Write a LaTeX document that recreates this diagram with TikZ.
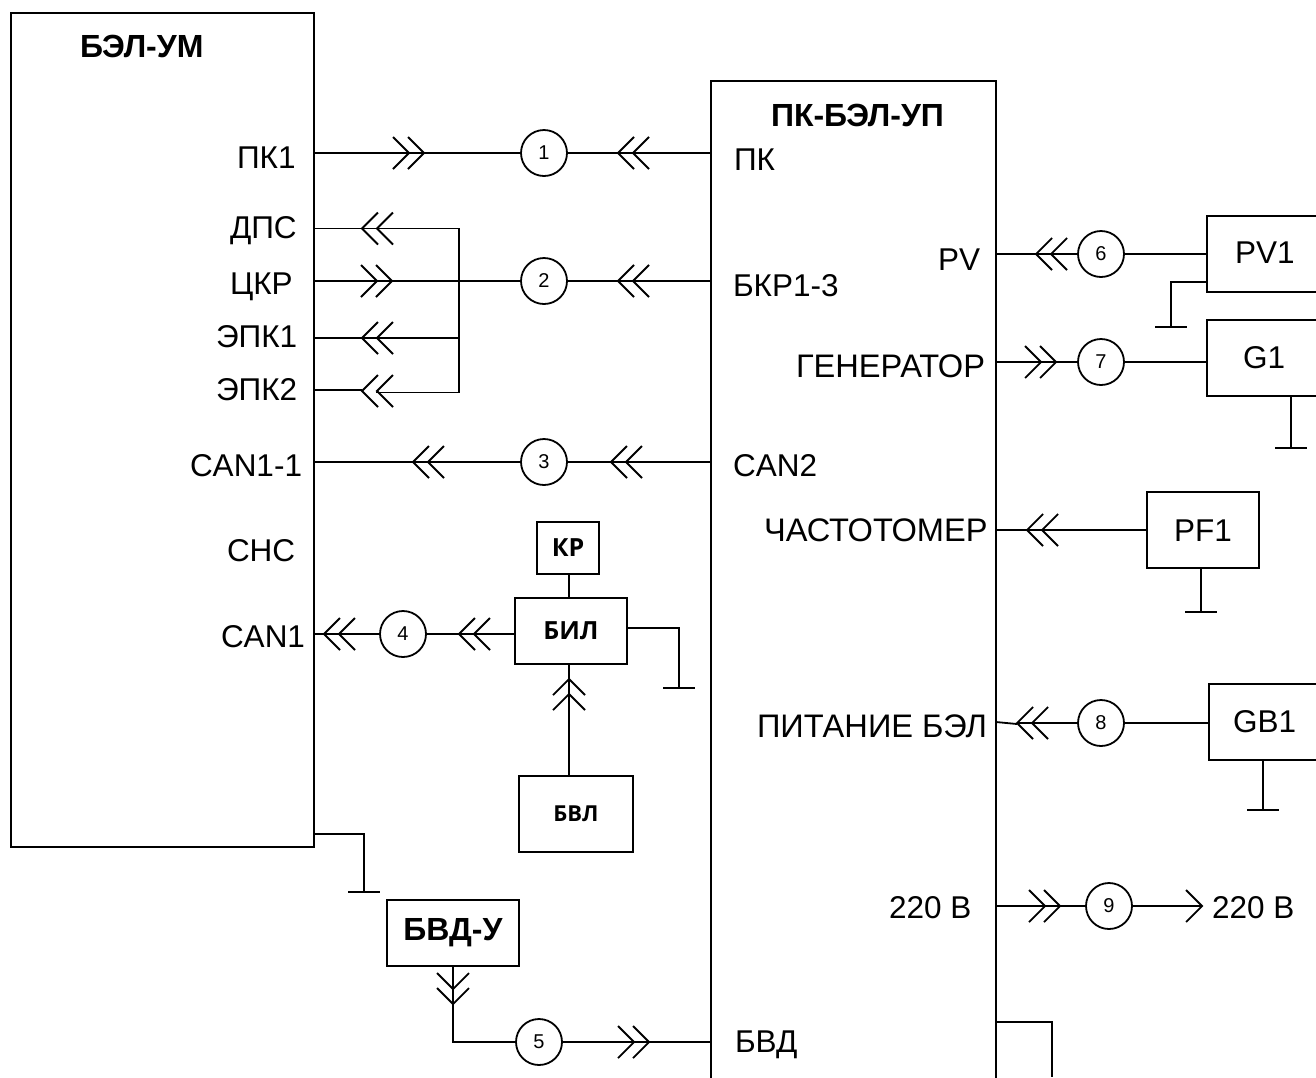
\documentclass[tikz,border=0pt]{standalone}
\usepackage{fontspec}
\setmainfont{Liberation Sans}
\newfontfamily\opensans{Open Sans}
\tikzset{
  wire/.style={line width=1.8pt,line cap=butt,line join=miter},
  box/.style={draw,line width=1.8pt,fill=none,inner sep=0pt,outer sep=0pt},
  num/.style={draw,circle,line width=1.8pt,minimum size=46pt,inner sep=0pt,outer sep=0pt,font=\fontsize{20}{20}\selectfont},
  lab/.style={anchor=base west,inner sep=0pt,outer sep=0pt,font=\fontsize{31.5}{31.5}\selectfont},
  wlab/.style={anchor=base west,inner sep=0pt,outer sep=0pt,font=\fontsize{32.6}{32.6}\selectfont},
  blab/.style={anchor=base west,inner sep=0pt,outer sep=0pt,font=\fontsize{32}{32}\selectfont\bfseries},
  chev/.pic={\draw[wire] (-16,-16) -- (0,0) -- (-16,16) (-31,-16) -- (-15,0) -- (-31,16);},
  single/.pic={\draw[wire] (-16,-16) -- (0,0) -- (-16,16);},
  gnd/.pic={\draw[wire] (-16,0) -- (16,0);},
}
\begin{document}
\begin{tikzpicture}[x=1pt,y=-1pt]
\useasboundingbox (0,0) rectangle (1316,1077);
\clip (0,0) rectangle (1316,1077);
% main blocks
\node[box,minimum width=303pt,minimum height=834pt] (bel) at (162.5,430) {};
\node[box,minimum width=285pt,minimum height=1040pt] (pk) at (853.5,601) {};
\node[box,minimum width=62pt,minimum height=52pt,font=\opensans\fontsize{25}{25}\selectfont\bfseries] (kr) at (568,548) {КР};
\node[box,minimum width=112pt,minimum height=66pt,font=\opensans\fontsize{25}{25}\selectfont\bfseries] (bil) at (571,631) {БИЛ};
\node[box,minimum width=114pt,minimum height=76pt,font=\opensans\fontsize{22}{22}\selectfont\bfseries] (bvl) at (576,814) {БВЛ};
\node[box,minimum width=132pt,minimum height=66pt,font=\fontsize{32}{32}\selectfont\bfseries] (bvd) at (453,933) {БВД-У};
\node[box,minimum width=143pt,minimum height=76pt] (pv1) at (1278.5,254) {};
\node[box,minimum width=143pt,minimum height=76pt] (g1) at (1278.5,358) {};
\node[box,minimum width=112pt,minimum height=76pt] (pf1) at (1203,530) {};
\node[box,minimum width=141pt,minimum height=76pt] (gb1) at (1279.5,722) {};
% numbered circles
\node[num] (c1) at (544,153) {1};
\node[num] (c2) at (544,281) {2};
\node[num] (c3) at (544,462) {3};
\node[num] (c4) at (403,634) {4};
\node[num] (c5) at (539,1042) {5};
\node[num] (c6) at (1101,254) {6};
\node[num] (c7) at (1101,362) {7};
\node[num] (c8) at (1101,723) {8};
\node[num] (c9) at (1109,906) {9};
% free-end coordinates
\coordinate (busT) at (459,228.5);
\coordinate (busE1) at (459,338);
\coordinate (busB) at (459,392.5);
\coordinate (bendV) at (453,1042);
\coordinate (pk9) at (1202,906);
\coordinate (gnd1) at (364,892);
\coordinate (gnd2) at (679,688);
\coordinate (gnd6) at (1171,327);
\coordinate (gnd7) at (1291,448);
\coordinate (gndF) at (1201,612);
\coordinate (gnd8) at (1263,810);
\coordinate (stubA) at (1052,1022);
% connectors
\draw[wire] (bel.east |- c1) -- (c1) -- (pk.west |- c1);
\draw[wire] (bel.east |- c2) -- (c2) -- (pk.west |- c2);
\draw[wire] (bel.east |- c3) -- (c3) -- (pk.west |- c3);
\draw[wire] (bel.east |- busT) -- (busT) -- (busB) -- (376,392.5);
\draw[wire] (bel.east |- 0,390) -- (362,390);
\draw[wire] (bel.east |- busE1) -- (busE1);
\draw[wire] (bel.east |- c4) -- (c4) -- (bil.west |- c4);
\draw[wire] (kr.south -| 569,0) -- (569,598);
\draw[wire] (bvl.north -| 569,0) -- (569,664);
\draw[wire] (bvd.south) -- (bendV) -- (c5) -- (pk.west |- c5);
\draw[wire] (pk.east |- c6) -- (c6) -- (pv1.west |- c6);
\draw[wire] (pk.east |- c7) -- (c7) -- (g1.west |- c7);
\draw[wire] (pk.east |- pf1) -- (pf1.west);
\draw[wire] (pk.east |- 0,722) -- (1017,724);
\draw[wire] (1017,723) -- (c8) -- (gb1.west |- c8);
\draw[wire] (pk.east |- c9) -- (c9) -- (pk9);
% grounds
\draw[wire] (bel.east |- 0,834) -| (gnd1);
\draw[wire] (bil.east |- 0,628) -| (gnd2);
\draw[wire] (pv1.west |- 0,282) -| (gnd6);
\draw[wire] (g1.south -| gnd7) -- (gnd7);
\draw[wire] (pf1.south -| gndF) -- (gndF);
\draw[wire] (gb1.south -| gnd8) -- (gnd8);
\pic at (gnd1) {gnd};
\pic at (gnd2) {gnd};
\pic at (gnd6) {gnd};
\pic at (gnd7) {gnd};
\pic at (gndF) {gnd};
\pic at (gnd8) {gnd};
% stub at the lower right
\draw[wire] (pk.east |- stubA) -- (stubA) -- (1052,1077);
% double chevrons
\pic at (424,153) {chev};
\pic[rotate=180] at (618,153) {chev};
\pic[rotate=180] at (362,228.5) {chev};
\pic at (392,281) {chev};
\pic[rotate=180] at (618,281) {chev};
\pic[rotate=180] at (362,338) {chev};
\pic[rotate=180] at (362,391) {chev};
\pic[rotate=180] at (413,462) {chev};
\pic[rotate=180] at (611,462) {chev};
\pic[rotate=180] at (324,634) {chev};
\pic[rotate=180] at (459,634) {chev};
\pic[rotate=90] at (569,679) {chev};
\pic[rotate=-90] at (453,1004) {chev};
\pic at (649,1042) {chev};
\pic[rotate=180] at (1036,254) {chev};
\pic at (1056,362) {chev};
\pic[rotate=180] at (1027,530) {chev};
\pic[rotate=180] at (1017,723) {chev};
\pic at (1060,906) {chev};
\pic at (pk9) {single};
% labels
\node[blab] (t1) at (80,57) {БЭЛ-УМ};
\node[lab] (t2) at (237,168) {ПК1};
\node[lab] (t3) at (230,238) {ДПС};
\node[lab] (t4) at (230,294) {ЦКР};
\node[lab] (t5) at (216,347) {ЭПК1};
\node[lab] (t6) at (216,400) {ЭПК2};
\node[lab] (t7) at (190,476) {CAN1-1};
\node[lab] (t8) at (227,561) {СНС};
\node[lab] (t9) at (221,647) {CAN1};
\node[blab] (t10) at (771,126) {ПК-БЭЛ-УП};
\node[lab] (t11) at (734,170) {ПК};
\node[lab] (t12) at (733,296) {БКР1-3};
\node[lab] (t13) at (733,476) {CAN2};
\node[lab] (t14) at (735,1052) {БВД};
\node[lab] (t15) at (938,270) {PV};
\node[wlab] (t16) at (796,377) {ГЕНЕРАТОР};
\node[wlab] (t17) at (764,541) {ЧАСТОТОМЕР};
\node[wlab] (t18) at (757,737) {ПИТАНИЕ БЭЛ};
\node[lab] (t19) at (889,918) {220 В};
\node[lab] (t20) at (1212,918) {220 В};
\node[lab] (t21) at (1235,263) {PV1};
\node[lab] (t22) at (1243,368) {G1};
\node[lab] (t23) at (1174,541) {PF1};
\node[lab] (t24) at (1233,732) {GB1};
\end{tikzpicture}
\end{document}
